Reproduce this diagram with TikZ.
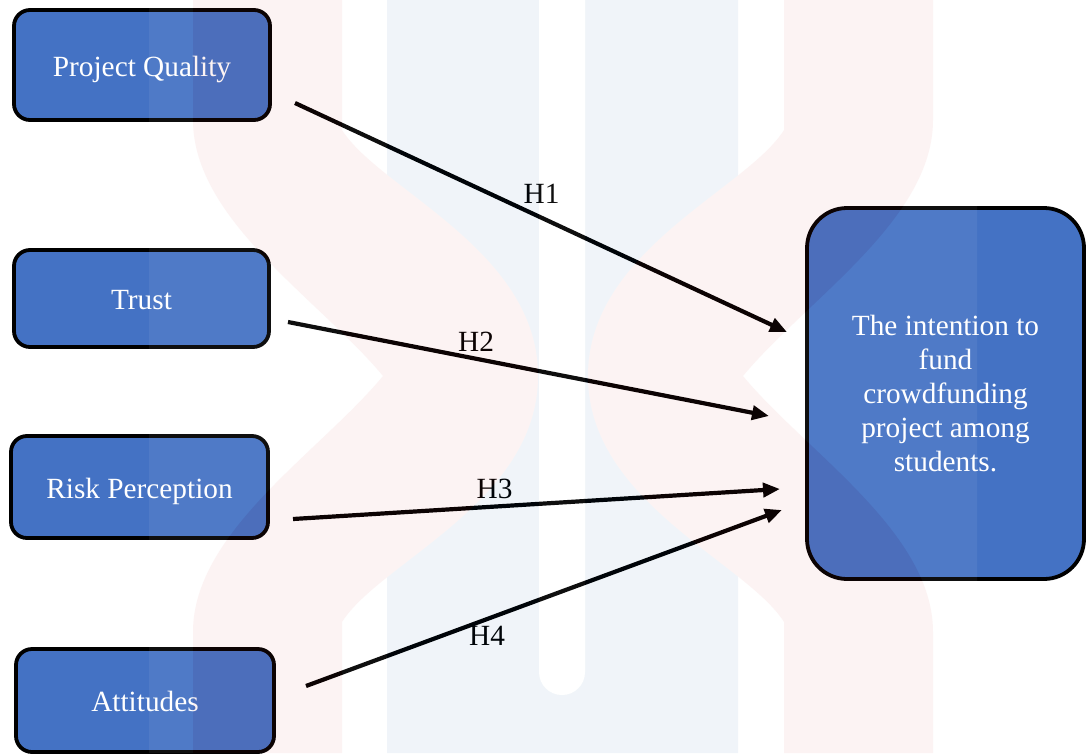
\documentclass[tikz,border=0pt]{standalone}
\usepackage{fontspec}
\setmainfont{Liberation Serif}
\usetikzlibrary{arrows.meta}
\definecolor{boxblue}{RGB}{68,114,196}
\definecolor{wmblue}{RGB}{12,84,155}
\definecolor{wmred}{RGB}{215,60,55}
\newcommand\dgfont{\fontsize{29.3}{34.2}\selectfont}
\tikzset{
  box/.style={draw=black, line width=3.8pt, fill=boxblue, rounded corners=16pt,
    text=white, font=\dgfont, inner sep=0pt},
  smallbox/.style={box, text height=22pt, text depth=0pt},
  arr/.style={line width=4.2pt, draw=black, -{Triangle[length=17pt,width=14pt]}},
  hlab/.style={font=\dgfont, text=black, inner sep=0pt, anchor=base},
  wm/.style={transparency group, opacity=0.06}
}
\begin{document}
\begin{tikzpicture}[x=1pt,y=-1pt]
\useasboundingbox (0,0) rectangle (1087,753);
\fill[white] (0,0) rectangle (1087,753);

% boxes
\node[smallbox, minimum width=256pt, minimum height=110pt] (pq) at (142,65) {Project Quality};
\node[smallbox, minimum width=255pt, minimum height=97pt] (tr) at (141.5,298.5) {Trust};
\node[smallbox, minimum width=257pt, minimum height=102pt] (rp) at (139.5,487) {Risk Perception};
\node[smallbox, minimum width=258pt, minimum height=103pt] (at) at (145,700.5) {Attitudes};
\node[box, rounded corners=40pt, minimum width=277pt, minimum height=371pt, align=center]
  (it) at (945.5,393.5) {The intention to\\fund\\crowdfunding\\project among\\students.};

% connector ends
\coordinate (s1) at (295,103);  \coordinate (e1) at (787,332);
\coordinate (s2) at (288,322);  \coordinate (e2) at (769,416);
\coordinate (s3) at (293,519);  \coordinate (e3) at (780,489);
\coordinate (s4) at (306,686);  \coordinate (e4) at (782,510);

\draw[arr] (s1) -- (e1);
\draw[arr] (s2) -- (e2);
\draw[arr] (s3) -- (e3);
\draw[arr] (s4) -- (e4);

% labels
\node[hlab] (h1) at (541.5,203) {H1};
\node[hlab] (h2) at (476,351) {H2};
\node[hlab] (h3) at (494.5,498) {H3};
\node[hlab] (h4) at (487,645) {H4};

% faint watermark
\begin{scope}[wm]
  \fill[white] (149,0) rectangle (977,753);
  \fill[wmblue] (387,0) rectangle (738,753);
  \fill[wmred] (193,0) -- (342,0) -- (342,130)
    .. controls (380,190) and (538,250) .. (538,376)
    .. controls (538,502) and (380,562) .. (342,622)
    -- (342,753) -- (193,753) -- (193,632)
    .. controls (193,532) and (320,452) .. (383,376)
    .. controls (320,300) and (193,220) .. (193,120) -- cycle;
  \fill[wmred] (933,0) -- (784,0) -- (784,130)
    .. controls (746,190) and (588,250) .. (588,376)
    .. controls (588,502) and (746,562) .. (784,622)
    -- (784,753) -- (933,753) -- (933,632)
    .. controls (933,532) and (806,452) .. (743,376)
    .. controls (806,300) and (933,220) .. (933,120) -- cycle;
  \fill[white, rounded corners=23pt] (539,-40) rectangle (585,695);
\end{scope}
\end{tikzpicture}
\end{document}
